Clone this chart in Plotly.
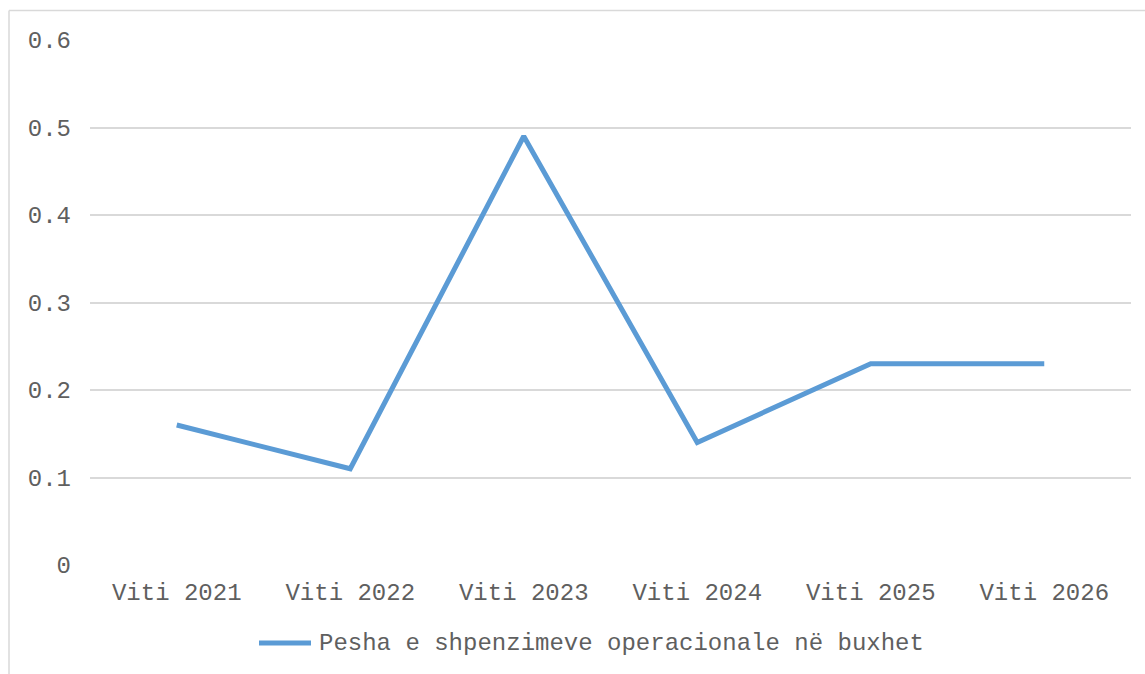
import plotly.graph_objects as go

years = ["Viti 2021", "Viti 2022", "Viti 2023", "Viti 2024", "Viti 2025", "Viti 2026"]
pesha = [0.16, 0.11, 0.49, 0.14, 0.23, 0.23]
series_name = "Pesha e shpenzimeve operacionale në buxhet"
y_ticks = [0, 0.1, 0.2, 0.3, 0.4, 0.5, 0.6]

FONT = "Courier New, Liberation Mono, monospace"
TEXT = "#5f5f5f"
GRID = "#d9d9d9"
BLUE = "#5b9bd5"

W, H = 1145, 674
ML, MR, MT, MB = 90, 14, 40, 109
PW, PH = W - ML - MR, H - MT - MB


def px(x):
    return (x - ML) / PW


def py(y):
    return (H - MB - y) / PH


fig = go.Figure()
fig.add_trace(go.Scatter(
    x=years, y=pesha, mode="lines", name=series_name,
    line=dict(color=BLUE, width=5), showlegend=False,
))

shapes = [
    # outer chart frame (top and left edges)
    dict(type="line", xref="paper", yref="paper", x0=px(9), x1=px(1150), y0=py(10.5), y1=py(10.5),
         line=dict(color=GRID, width=1.5)),
    dict(type="line", xref="paper", yref="paper", x0=px(9), x1=px(9), y0=py(10.5), y1=py(680),
         line=dict(color=GRID, width=1.5)),
    # legend sample
    dict(type="line", xref="paper", yref="paper", x0=px(259), x1=px(311), y0=py(643), y1=py(643),
         line=dict(color=BLUE, width=5)),
]
annotations = [
    dict(text=series_name, xref="paper", yref="paper", x=px(317), y=py(643),
         xanchor="left", yanchor="middle", showarrow=False,
         font=dict(family=FONT, size=24, color=TEXT)),
]

fig.update_layout(
    width=W, height=H,
    margin=dict(l=ML, r=MR, t=MT, b=MB),
    paper_bgcolor="white", plot_bgcolor="white",
    font=dict(family=FONT, size=24, color=TEXT),
    shapes=shapes, annotations=annotations,
    xaxis=dict(type="category", range=[-0.5, 5.5], showgrid=False, zeroline=False,
               showline=False, ticks="", ticklabelstandoff=10,
               tickfont=dict(size=24, color=TEXT)),
    yaxis=dict(range=[0, 0.6], tickvals=y_ticks, ticktext=[f"{v:g}" for v in y_ticks],
               showgrid=True, gridcolor=GRID, gridwidth=1.5, zeroline=False,
               showline=False, ticks="", ticklabelstandoff=18,
               tickfont=dict(size=24, color=TEXT)),
    showlegend=False,
)

fig.write_html("out.html")
